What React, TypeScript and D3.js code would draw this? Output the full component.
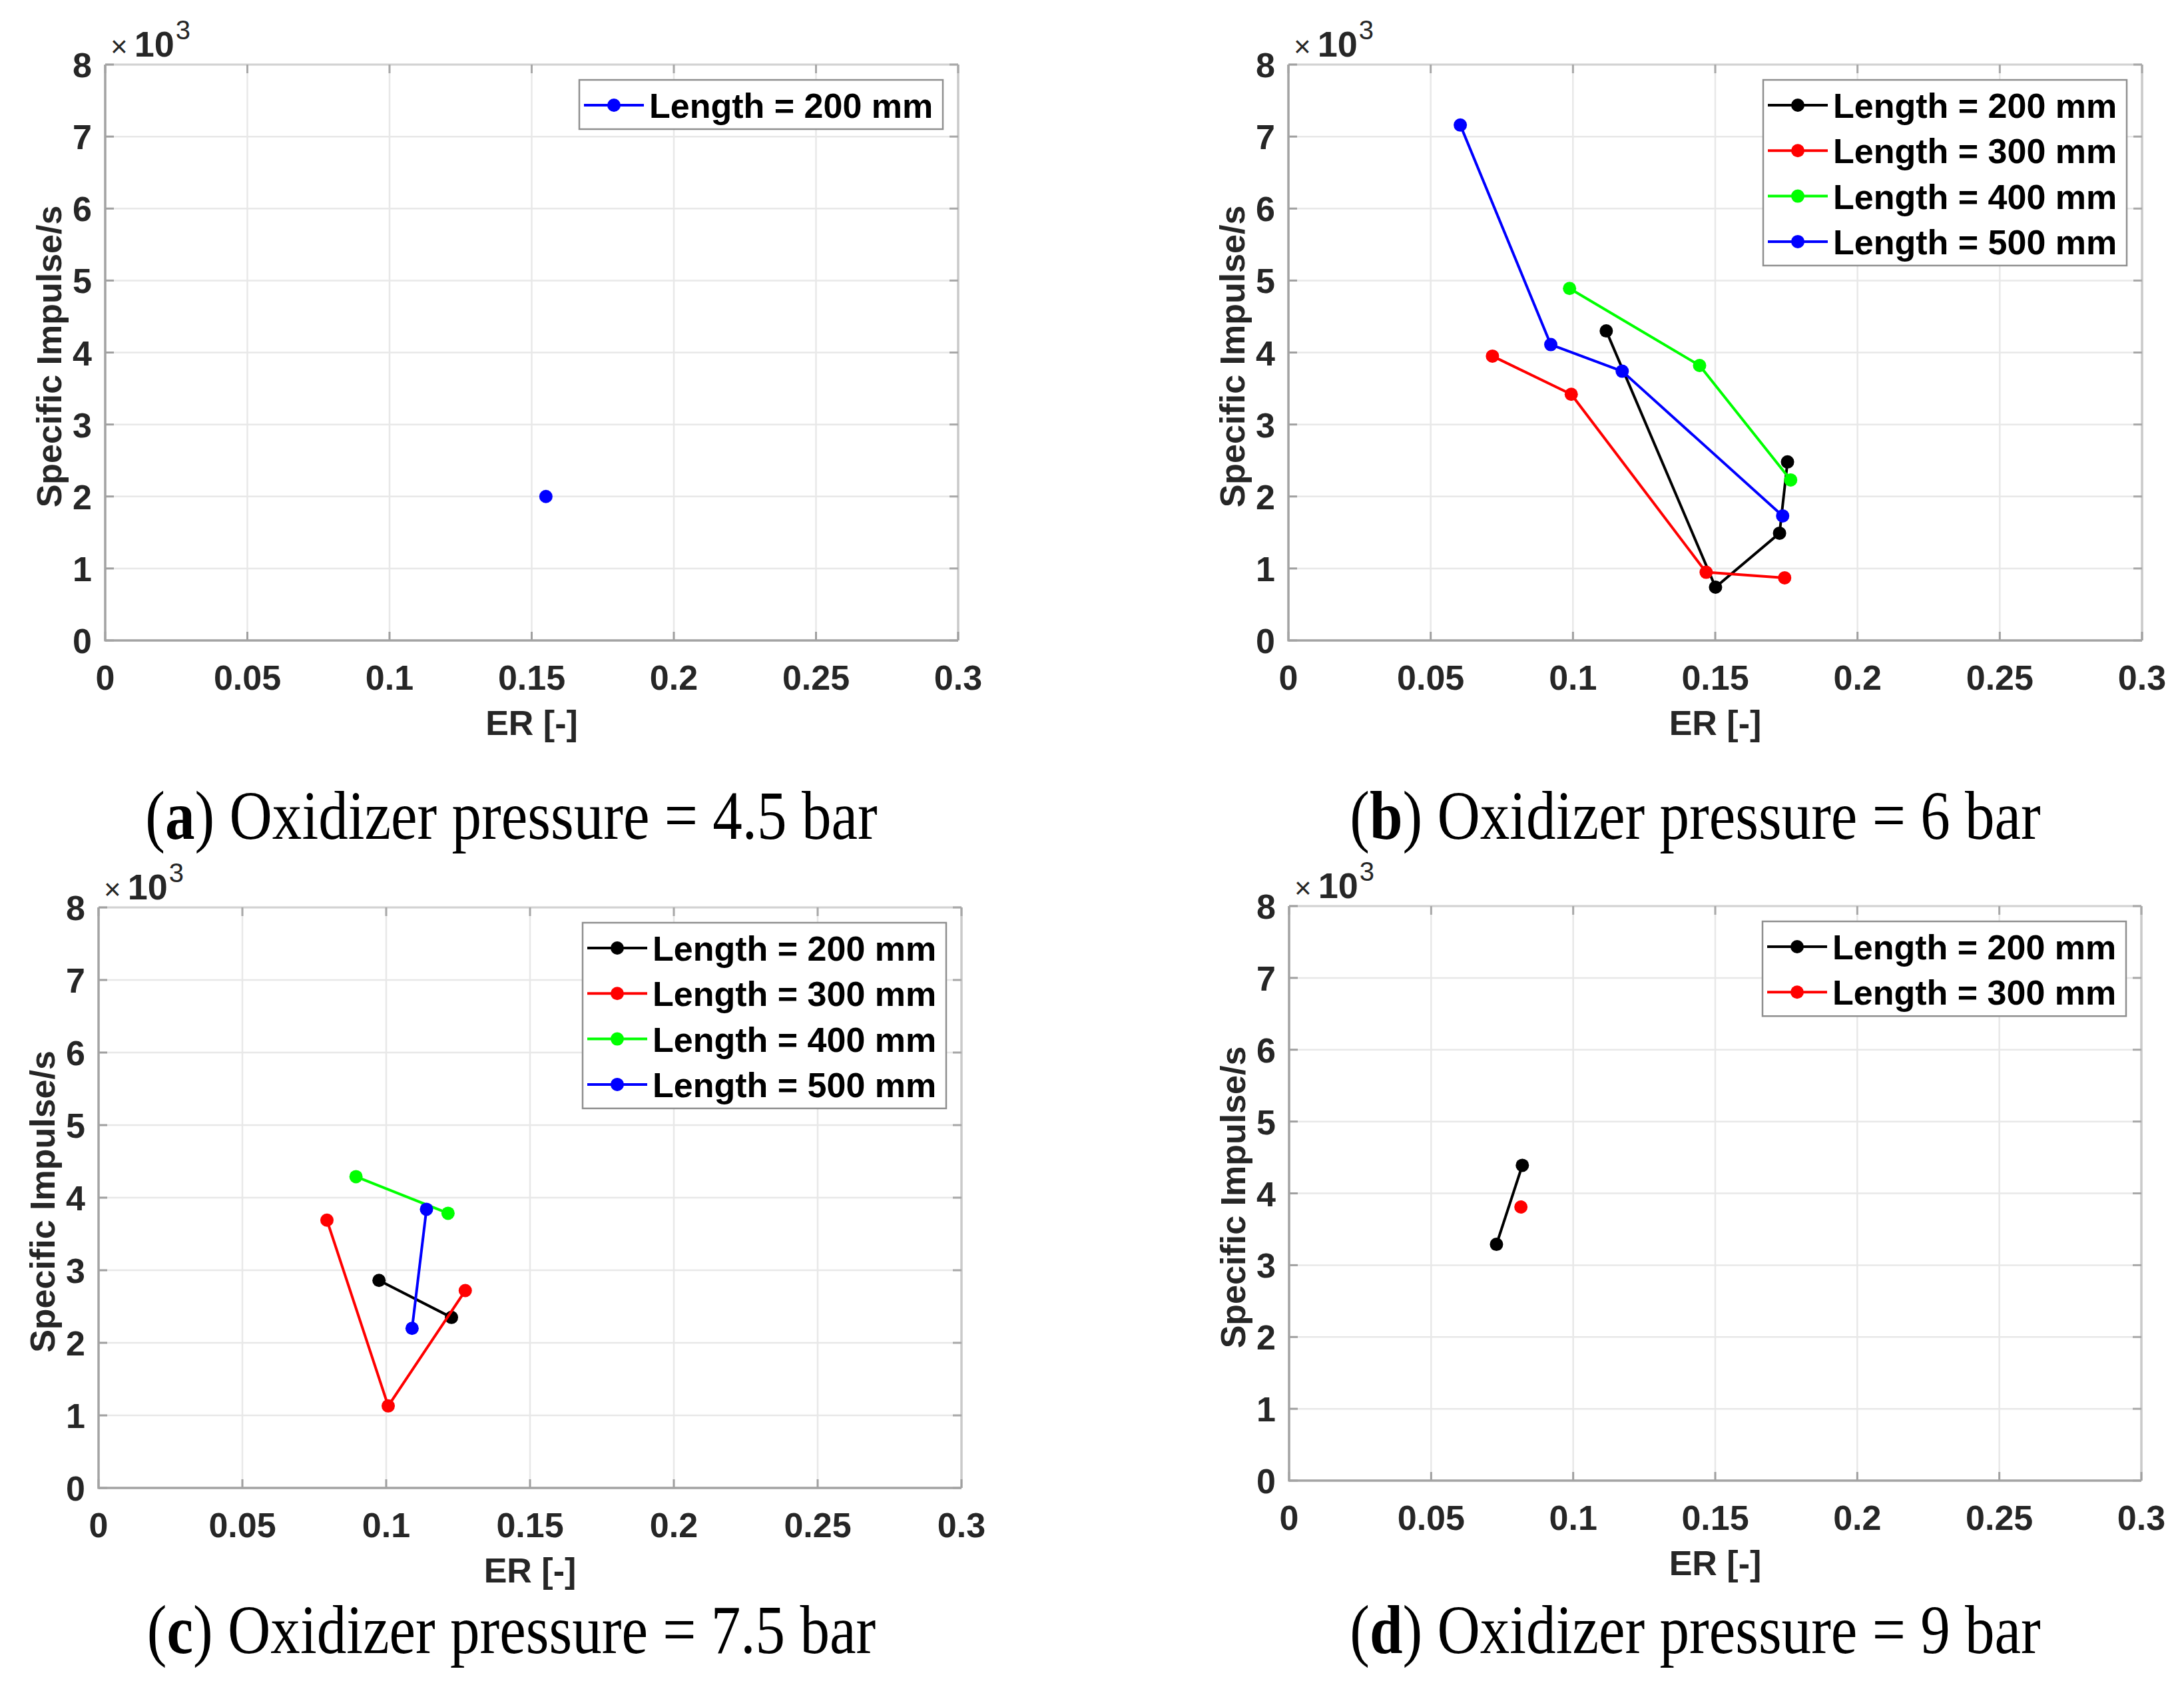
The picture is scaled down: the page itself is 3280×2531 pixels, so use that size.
import React from 'react';
import * as d3 from 'd3';

// ---------- axis ticks ----------
const xTickValues = [0, 0.05, 0.1, 0.15, 0.2, 0.25, 0.3];
const xTickLabels = ['0', '0.05', '0.1', '0.15', '0.2', '0.25', '0.3'];
const yTickValues = [0, 1000, 2000, 3000, 4000, 5000, 6000, 7000, 8000];
const yTickLabels = ['0', '1', '2', '3', '4', '5', '6', '7', '8'];

const xLabel = 'ER [-]';
const yLabel = 'Specific Impulse/s';

// ---------- (a) Oxidizer pressure = 4.5 bar ----------
const er45_L200 = [0.155];
const isp45_L200 = [2000];

// ---------- (b) Oxidizer pressure = 6 bar ----------
const er60_L200 = [0.1117, 0.1501, 0.1726, 0.1754];
const isp60_L200 = [4300, 740, 1490, 2480];
const er60_L300 = [0.0717, 0.0994, 0.1468, 0.1744];
const isp60_L300 = [3950, 3420, 947, 870];
const er60_L400 = [0.0988, 0.1445, 0.1765];
const isp60_L400 = [4890, 3820, 2230];
const er60_L500 = [0.0604, 0.0922, 0.1173, 0.1737];
const isp60_L500 = [7160, 4110, 3740, 1730];

// ---------- (c) Oxidizer pressure = 7.5 bar ----------
const er75_L200 = [0.0975, 0.1227];
const isp75_L200 = [2860, 2350];
const er75_L300 = [0.0794, 0.1007, 0.1275];
const isp75_L300 = [3690, 1130, 2720];
const er75_L400 = [0.0895, 0.1215];
const isp75_L400 = [4290, 3785];
const er75_L500 = [0.109, 0.114];
const isp75_L500 = [2200, 3840];

// ---------- (d) Oxidizer pressure = 9 bar ----------
const er90_L200 = [0.073, 0.0821];
const isp90_L200 = [3290, 4390];
const er90_L300 = [0.0816];
const isp90_L300 = [3810];

const captionLetters = ['a', 'b', 'c', 'd'];
const captionTexts = [
  ') Oxidizer pressure = 4.5 bar',
  ') Oxidizer pressure = 6 bar',
  ') Oxidizer pressure = 7.5 bar',
  ') Oxidizer pressure = 9 bar',
];

const BLACK = '#000000';
const RED = '#ff0000';
const GREEN = '#00ff00';
const BLUE = '#0000ff';

const SANS = "'Liberation Sans', Arial, Helvetica, sans-serif";
const SERIF = "'Liberation Serif', 'Times New Roman', serif";

type Series = { name: string; color: string; er: number[]; isp: number[] };
type Frame = { l: number; r: number; t: number; b: number };

const panels: { frame: Frame; series: Series[]; cx: number; capY: number }[] = [
  {
    frame: { l: 158, r: 1439, t: 97, b: 962 },
    series: [{ name: 'Length = 200 mm', color: BLUE, er: er45_L200, isp: isp45_L200 }],
    cx: 768,
    capY: 1260,
  },
  {
    frame: { l: 1935, r: 3217, t: 97, b: 962 },
    series: [
      { name: 'Length = 200 mm', color: BLACK, er: er60_L200, isp: isp60_L200 },
      { name: 'Length = 300 mm', color: RED, er: er60_L300, isp: isp60_L300 },
      { name: 'Length = 400 mm', color: GREEN, er: er60_L400, isp: isp60_L400 },
      { name: 'Length = 500 mm', color: BLUE, er: er60_L500, isp: isp60_L500 },
    ],
    cx: 2546,
    capY: 1260,
  },
  {
    frame: { l: 148, r: 1444, t: 1363, b: 2235 },
    series: [
      { name: 'Length = 200 mm', color: BLACK, er: er75_L200, isp: isp75_L200 },
      { name: 'Length = 300 mm', color: RED, er: er75_L300, isp: isp75_L300 },
      { name: 'Length = 400 mm', color: GREEN, er: er75_L400, isp: isp75_L400 },
      { name: 'Length = 500 mm', color: BLUE, er: er75_L500, isp: isp75_L500 },
    ],
    cx: 768,
    capY: 2483,
  },
  {
    frame: { l: 1936, r: 3216, t: 1361, b: 2224 },
    series: [
      { name: 'Length = 200 mm', color: BLACK, er: er90_L200, isp: isp90_L200 },
      { name: 'Length = 300 mm', color: RED, er: er90_L300, isp: isp90_L300 },
    ],
    cx: 2546,
    capY: 2483,
  },
];

function Panel({ frame, series, cx, capY, idx }: { frame: Frame; series: Series[]; cx: number; capY: number; idx: number }) {
  const x = d3.scaleLinear().domain([0, 0.3]).range([frame.l, frame.r]);
  const y = d3.scaleLinear().domain([0, 8000]).range([frame.b, frame.t]);
  const line = d3
    .line<[number, number]>()
    .x((d) => x(d[0]))
    .y((d) => y(d[1]));

  const tickLen = 13;
  const legW = 546;
  const legL = frame.r - 23 - legW;
  const legT = frame.t + 23;
  const rowH = 68.3;
  const legH = 74 + (series.length - 1) * rowH;

  return (
    <g>
      {/* grid */}
      {xTickValues.map((v, i) => (
        <line key={'gx' + i} x1={x(v)} x2={x(v)} y1={frame.t} y2={frame.b} stroke="#e8e8e8" strokeWidth={2.5} />
      ))}
      {yTickValues.map((v, i) => (
        <line key={'gy' + i} x1={frame.l} x2={frame.r} y1={y(v)} y2={y(v)} stroke="#e8e8e8" strokeWidth={2.5} />
      ))}
      {/* box: top/right lighter */}
      <line x1={frame.l} x2={frame.r} y1={frame.t} y2={frame.t} stroke="#d2d2d2" strokeWidth={3} />
      <line x1={frame.r} x2={frame.r} y1={frame.t} y2={frame.b} stroke="#cacaca" strokeWidth={3.5} />
      {/* ticks */}
      {xTickValues.map((v, i) => (
        <g key={'tx' + i}>
          <line x1={x(v)} x2={x(v)} y1={frame.b} y2={frame.b - tickLen} stroke="#a0a0a0" strokeWidth={3} />
          <line x1={x(v)} x2={x(v)} y1={frame.t} y2={frame.t + tickLen} stroke="#a8a8a8" strokeWidth={3} />
        </g>
      ))}
      {yTickValues.map((v, i) => (
        <g key={'ty' + i}>
          <line x1={frame.l} x2={frame.l + tickLen} y1={y(v)} y2={y(v)} stroke="#a0a0a0" strokeWidth={3} />
          <line x1={frame.r} x2={frame.r - tickLen} y1={y(v)} y2={y(v)} stroke="#a8a8a8" strokeWidth={3} />
        </g>
      ))}
      {/* left / bottom axes */}
      <line x1={frame.l} x2={frame.l} y1={frame.t} y2={frame.b + 1.5} stroke="#a3a3a3" strokeWidth={3.5} />
      <line x1={frame.l} x2={frame.r} y1={frame.b} y2={frame.b} stroke="#a3a3a3" strokeWidth={3.5} />

      {/* tick labels */}
      {xTickValues.map((v, i) => (
        <text key={'lx' + i} x={x(v)} y={frame.b + 74} textAnchor="middle" fontFamily={SANS} fontWeight="bold" fontSize={52} fill="#262626">
          {xTickLabels[i]}
        </text>
      ))}
      {yTickValues.map((v, i) => (
        <text key={'ly' + i} x={frame.l - 20} y={y(v) + 19} textAnchor="end" fontFamily={SANS} fontWeight="bold" fontSize={52} fill="#262626">
          {yTickLabels[i]}
        </text>
      ))}
      {/* exponent */}
      <text x={frame.l + 8} y={frame.t - 12} fontFamily={SANS} fill="#262626">
        <tspan fontSize={44}>×</tspan>
        <tspan fontSize={54} fontWeight="bold" dx={10}>10</tspan>
        <tspan fontSize={40} dy={-26} dx={2}>3</tspan>
      </text>
      {/* axis labels */}
      <text x={(frame.l + frame.r) / 2} y={frame.b + 142} textAnchor="middle" fontFamily={SANS} fontWeight="bold" fontSize={52} fill="#262626">
        {xLabel}
      </text>
      <text
        transform={`translate(${frame.l - 66},${(frame.t + frame.b) / 2 + 6}) rotate(-90)`}
        textAnchor="middle"
        fontFamily={SANS}
        fontWeight="bold"
        fontSize={52}
        fill="#262626"
      >
        {yLabel}
      </text>

      {/* data */}
      {series.map((s, si) => {
        const pts: [number, number][] = s.er.map((e, k) => [e, s.isp[k]]);
        return (
          <g key={'s' + si}>
            {pts.length > 1 && <path d={line(pts) || ''} fill="none" stroke={s.color} strokeWidth={4} strokeLinejoin="round" />}
            {pts.map((p, k) => (
              <circle key={k} cx={x(p[0])} cy={y(p[1])} r={10} fill={s.color} />
            ))}
          </g>
        );
      })}

      {/* legend */}
      <rect x={legL} y={legT} width={legW} height={legH} fill="#ffffff" stroke="#8f8f8f" strokeWidth={2.5} />
      {series.map((s, si) => {
        const cy = legT + 38 + si * rowH;
        return (
          <g key={'lg' + si}>
            <line x1={legL + 7} x2={legL + 97} y1={cy} y2={cy} stroke={s.color} strokeWidth={4} />
            <circle cx={legL + 52} cy={cy} r={10} fill={s.color} />
            <text x={legL + 105} y={cy + 19} fontFamily={SANS} fontWeight="bold" fontSize={52} fill="#000">
              {s.name}
            </text>
          </g>
        );
      })}

      {/* caption */}
      <text transform={`translate(${cx},${capY}) scale(0.857,1)`} textAnchor="middle" fontFamily={SERIF} fontSize={104} fill="#000">
        {'('}
        <tspan fontWeight="bold">{captionLetters[idx]}</tspan>
        {captionTexts[idx]}
      </text>
    </g>
  );
}

export default function App() {
  return (
    <svg
      width={3280}
      height={2531}
      viewBox="0 0 3280 2531"
      style={{ position: 'absolute', left: 0, top: 0, background: '#ffffff', display: 'block' }}
    >
      <rect x={0} y={0} width={3280} height={2531} fill="#ffffff" />
      {panels.map((p, i) => (
        <Panel key={i} idx={i} frame={p.frame} series={p.series} cx={p.cx} capY={p.capY} />
      ))}
    </svg>
  );
}
